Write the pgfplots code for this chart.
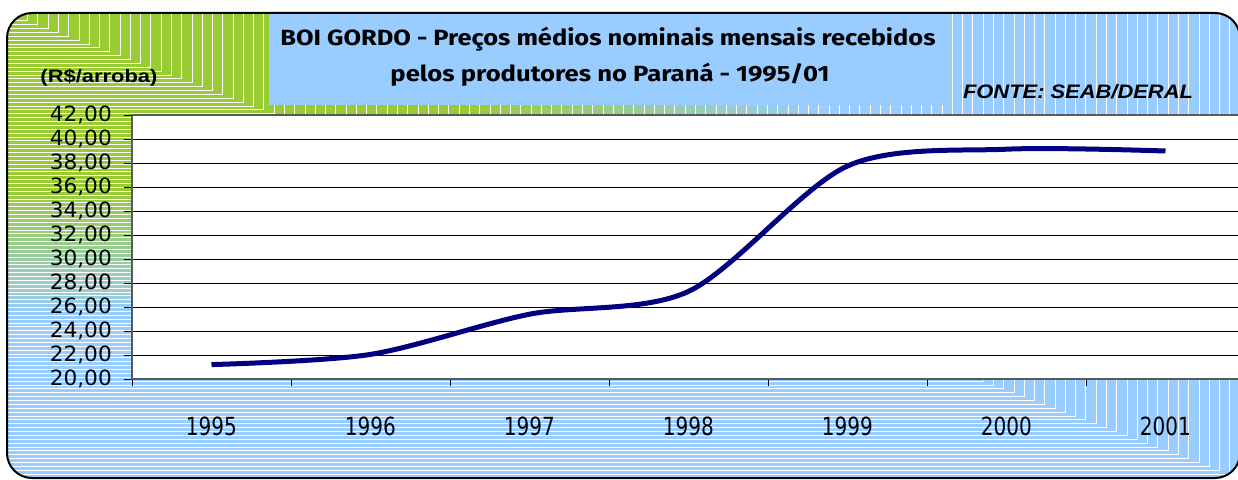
\documentclass[border=0pt]{standalone}
\usepackage{pgfplots}
\pgfplotsset{compat=1.18}
\usepackage{fontspec}
\setmainfont{Liberation Sans}
\newfontfamily\titlefont{Fira Sans}
\newfontfamily\tickfont{DejaVu Sans}
\definecolor{gG}{RGB}{153,204,51}
\definecolor{bB}{RGB}{153,204,255}
\definecolor{titlebg}{RGB}{153,204,255}
\definecolor{navyline}{RGB}{0,0,128}
\newcommand{\xl}[1]{\resizebox{51pt}{\height}{#1}}
\begin{document}
\begin{tikzpicture}
\path[use as bounding box] (0,0) rectangle (1238pt,479pt);
\clip (0,0) rectangle (1238pt,479pt);
\begin{scope}[x=1pt,y=1pt]
  \begin{scope}
    \clip[rounded corners=25pt] (7,1) rectangle (1240,466);
    \foreach \k in {120,119,...,1}{
      \pgfmathsetmacro\t{\k/120}
      \pgfmathsetmacro\m{100*min(1,max(0,(0.66-\t)/0.28))}
      \colorlet{bandc}{gG!\m!bB}
      \fill[bandc, draw=white, line width=0.8pt] (7,466) rectangle ({7+\t*1233},{466-\t*465});
    }
  \end{scope}
  \fill[titlebg] (269,466) rectangle (945,374);
  \draw[black, line width=2pt, rounded corners=25pt] (7,1) rectangle (1240,466);
  \node[inner sep=0pt] at (608,440) {\resizebox{655pt}{\height}{\fontsize{22pt}{26pt}\selectfont\titlefont\bfseries BOI GORDO - Preços médios nominais mensais recebidos}};
  \node[inner sep=0pt] at (610,404) {\resizebox{439pt}{\height}{\fontsize{22pt}{26pt}\selectfont\titlefont\bfseries pelos produtores no Paraná - 1995/01}};
  \node[inner sep=0pt] at (99,401) {\resizebox{117pt}{\height}{\fontsize{18pt}{20pt}\selectfont\bfseries (R\$/arroba)}};
  \node[inner sep=0pt] at (1078,387) {\resizebox{230pt}{\height}{\fontsize{19.5pt}{22pt}\selectfont\bfseries\itshape FONTE: SEAB/DERAL}};
\end{scope}
\begin{axis}[
  at={(132pt,100pt)}, anchor=south west,
  scale only axis, width=1113pt, height=264pt,
  xmin=0, xmax=7, ymin=20, ymax=42,
  ytick={20,22,...,42},
  xtick={0.5,1.5,...,6.5},
  xticklabels={\xl{1995},\xl{1996},\xl{1997},\xl{1998},\xl{1999},\xl{2000},\xl{2001}},
  minor xtick={0,1,...,7},
  tick align=outside, xtick pos=bottom, ytick pos=left,
  major tick length=8pt, minor tick length=7pt,
  major x tick style={draw=none},
  tick style={black, line width=0.9pt},
  ymajorgrids, xmajorgrids=false,
  major grid style={black, line width=0.9pt},
  axis line style={black!65, line width=1.2pt},
  axis background/.style={fill=white},
  yticklabel={\resizebox{62pt}{\height}{\pgfmathprintnumber[fixed, fixed zerofill, precision=2, use comma, assume math mode=true]{\tick}}},
  yticklabel style={font=\fontsize{21pt}{21pt}\selectfont\tickfont, anchor=east, inner sep=0pt, xshift=-12pt},
  xticklabel style={font=\fontsize{25pt}{25pt}\selectfont\tickfont, anchor=center, inner sep=0pt, yshift=-39pt},
]
\addplot[navyline, line width=5pt, smooth, tension=0.5] coordinates {
  (0.5,21.2) (1.5,22.05) (2.5,25.4) (3.5,27.3) (4.5,37.75) (5.5,39.15) (6.5,39.0)
};
\end{axis}
\end{tikzpicture}
\end{document}
